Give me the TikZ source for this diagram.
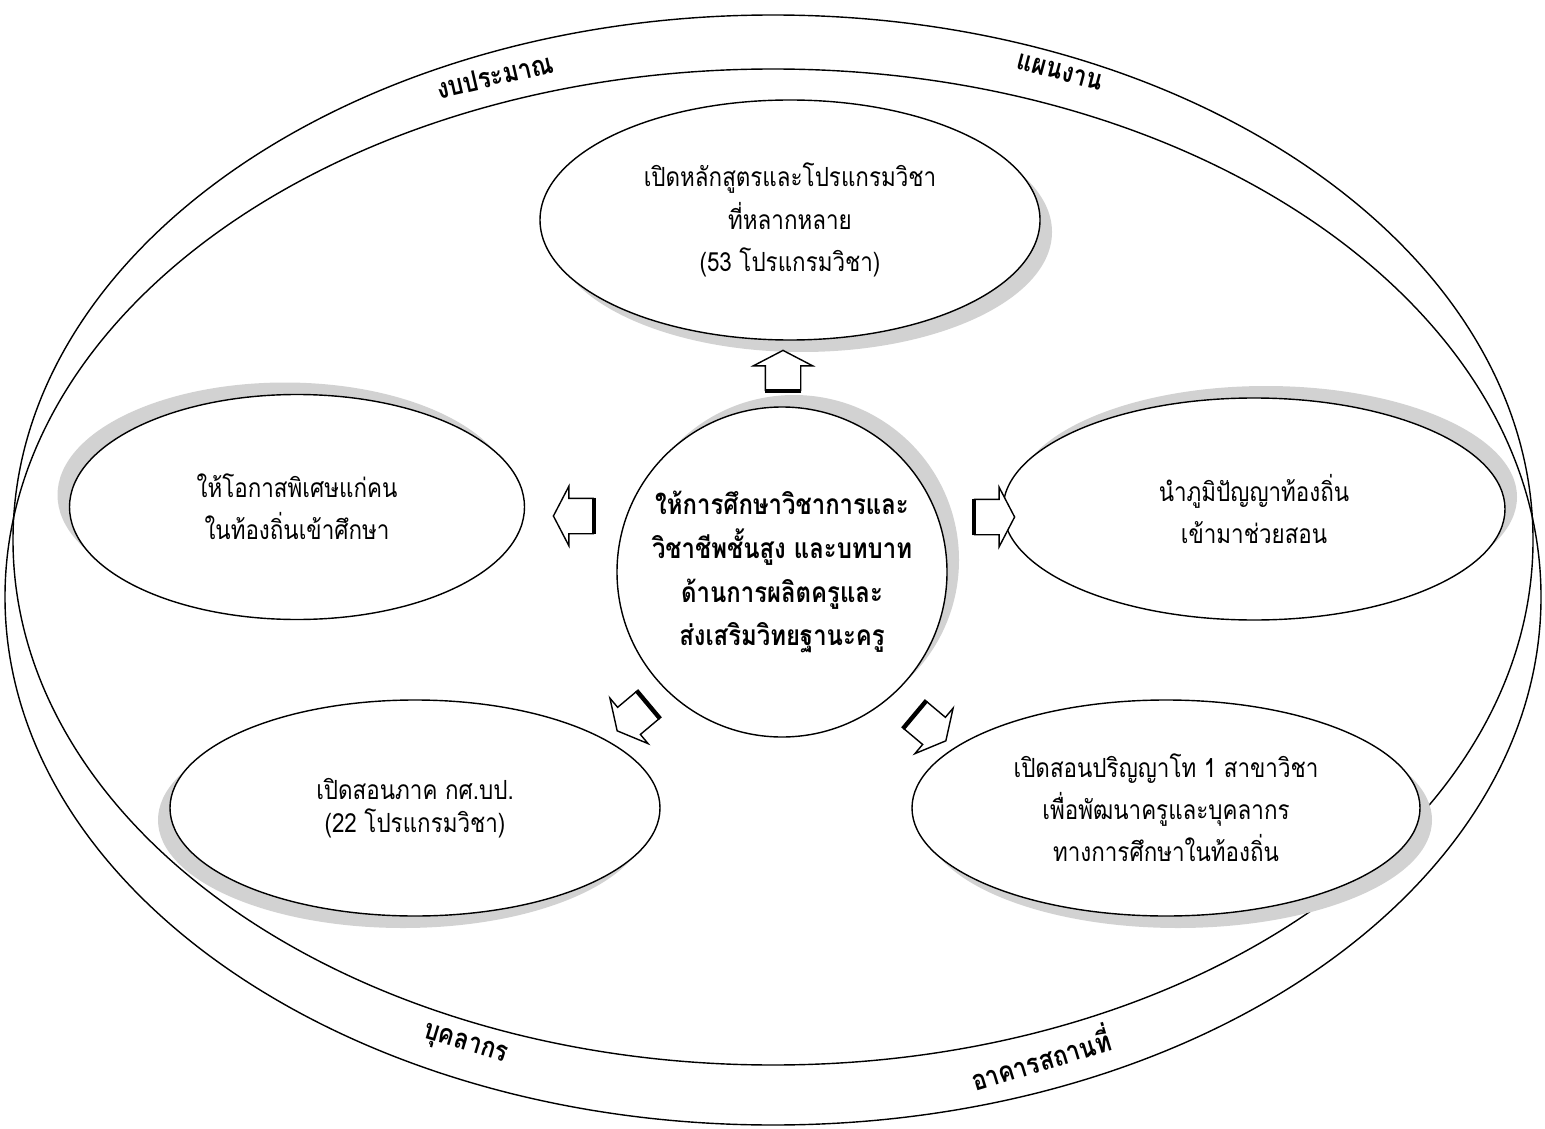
\documentclass[tikz,border=0pt]{standalone}
\usepackage{fontspec}
\newfontfamily\thaifont[Script=Thai]{Loma}
\newfontfamily\thainarrow[Script=Thai,FakeStretch=0.85]{Loma}
\usetikzlibrary{shapes.geometric,shapes.arrows,shadows}
\newdimen\pxu \pxu=0.2mm

\begin{document}
\begin{tikzpicture}[x=0.2mm,y=-0.2mm,thick,font=\thaifont]
    % `ring' is used for the two big crossing ellipses,
    % `bubble' for the five outer goals, `hub' for the middle circle.
    \tikzstyle{ring} = [draw,ellipse,inner sep=0pt]
    \tikzstyle{bubble} = [draw,ellipse,fill=white,align=center,inner sep=0pt,
      font=\thainarrow\fontsize{15}{24}\selectfont]
    \tikzstyle{hub} = [draw,circle,fill=white,align=center,inner sep=0pt,
      minimum size=330\pxu,font=\thainarrow\bfseries\fontsize{16}{25}\selectfont]
    \tikzstyle{band} = [font=\thainarrow\bfseries\fontsize{16}{20}\selectfont]
    \tikzstyle{fat} = [draw,fill=white,single arrow,inner sep=0pt,
      text height=17\pxu,text depth=17\pxu,text width=0pt,
      minimum height=40\pxu,single arrow head extend=12\pxu,
      single arrow tip angle=125]
    %
    \useasboundingbox (0,0) rectangle (1545,1129);
    \node[ring,minimum width=1520\pxu,minimum height=1050\pxu] (ringA) at (773,540) {};
    \node[ring,minimum width=1536\pxu,minimum height=1056\pxu] (ringB) at (773,597) {};

    \node[band,rotate=13]  (budget) at (495,76)    {งบประมาณ};
    \node[band,rotate=-15] (plan)   at (1060,72)   {แผนงาน};
    \node[band,rotate=-17] (staff)  at (465,1046)  {บุคลากร};
    \node[band,rotate=17]  (place)  at (1040,1057) {อาคารสถานที่};

    % goals
    \node[bubble,minimum width=500\pxu,minimum height=240\pxu,
      drop shadow={shadow xshift=2.4mm,shadow yshift=-2.4mm,fill=gray!35,opacity=1}]
      (prog) at (790,220) {เปิดหลักสูตรและโปรแกรมวิชา\\ที่หลากหลาย\\(53 โปรแกรมวิชา)};
    \node[bubble,minimum width=455\pxu,minimum height=225\pxu,
      drop shadow={shadow xshift=-2.4mm,shadow yshift=2.4mm,fill=gray!35,opacity=1}]
      (chance) at (297,507) {ให้โอกาสพิเศษแก่คน\\ในท้องถิ่นเข้าศึกษา};
    \node[bubble,minimum width=502\pxu,minimum height=222\pxu,
      drop shadow={shadow xshift=2.4mm,shadow yshift=2.4mm,fill=gray!35,opacity=1}]
      (wisdom) at (1254,509) {นำภูมิปัญญาท้องถิ่น\\เข้ามาช่วยสอน};
    \node[bubble,minimum width=490\pxu,minimum height=216\pxu,
      drop shadow={shadow xshift=-2.4mm,shadow yshift=-2.4mm,fill=gray!35,opacity=1}]
      (weekend) at (415,808) {เปิดสอนภาค กศ.บป.\\[-5pt](22 โปรแกรมวิชา)};
    \node[bubble,minimum width=508\pxu,minimum height=216\pxu,
      drop shadow={shadow xshift=2.4mm,shadow yshift=-2.4mm,fill=gray!35,opacity=1}]
      (master) at (1166,808) {เปิดสอนปริญญาโท 1 สาขาวิชา\\เพื่อพัฒนาครูและบุคลากร\\ทางการศึกษาในท้องถิ่น};

    \node[hub,drop shadow={shadow xshift=2.4mm,shadow yshift=2.4mm,fill=gray!35,opacity=1}]
      (core) at (782,572) {ให้การศึกษาวิชาการและ\\วิชาชีพชั้นสูง และบทบาท\\ด้านการผลิตครูและ\\ส่งเสริมวิทยฐานะครู};

    % block arrows from the hub
    \node[fat,rotate=90]  (aup)    at (783,375) {};
    \node[fat,rotate=180] (aleft)  at (578,516) {};
    \node[fat]            (aright) at (990,517) {};
    \node[fat,rotate=220] (adl)    at (636,715) {};
    \node[fat,rotate=-40] (adr)    at (927,725) {};
    \foreach \a in {aup,aleft,aright,adl,adr}
      \draw[line width=2.5pt] (\a.before tail) -- (\a.after tail);
\end{tikzpicture}
\end{document}
